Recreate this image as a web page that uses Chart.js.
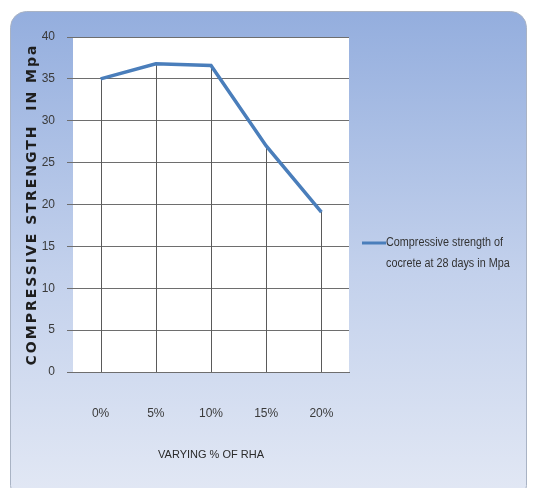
<!DOCTYPE html>
<html>
<head>
<meta charset="utf-8">
<script src="https://cdn.jsdelivr.net/npm/chart.js@4"></script>
<style>
  html, body { margin: 0; padding: 0; background: #fff; }
  #wrap { width: 533px; height: 488px; }
</style>
</head>
<body>
<div id="wrap"><canvas id="myChart" width="533" height="488"></canvas></div>
<script>
// data
const categories = ['0%', '5%', '10%', '15%', '20%'];
const strength = [35, 36.8, 36.6, 27.0, 19.1];
const seriesLabel = ['Compressive strength of', 'cocrete at 28 days in Mpa'];
const yTitle = 'COMPRESSIVE STRENGTH  IN Mpa';
const yTicks = [0, 5, 10, 15, 20, 25, 30, 35, 40];

const narrow = "'Liberation Sans Narrow', 'Arial Narrow', 'Liberation Sans', sans-serif";

// card background + white plot area
const background = {
    id: 'background',
    beforeDraw(chart) {
        const ctx = chart.ctx;
        const a = chart.chartArea;
        ctx.save();
        ctx.fillStyle = '#ffffff';
        ctx.fillRect(0, 0, chart.width, chart.height);
        const g = ctx.createLinearGradient(0, 12, 0, 488);
        g.addColorStop(0, '#94aede');
        g.addColorStop(0.55, '#c3d1ec');
        g.addColorStop(1, '#e1e7f4');
        ctx.beginPath();
        ctx.roundRect(10.5, 11.5, 516, 490, 16);
        ctx.fillStyle = g;
        ctx.fill();
        ctx.strokeStyle = '#a9b3c4';
        ctx.lineWidth = 1;
        ctx.stroke();
        ctx.fillStyle = '#ffffff';
        ctx.fillRect(a.left, a.top, a.right - a.left, a.bottom - a.top);
        ctx.restore();
    }
};

// vertical drop lines from each point to the x axis
const dropLines = {
    id: 'dropLines',
    beforeDatasetsDraw(chart) {
        const ctx = chart.ctx;
        const x = chart.scales.x, y = chart.scales.y;
        ctx.save();
        ctx.strokeStyle = '#5a5a5a';
        ctx.lineWidth = 1;
        strength.forEach((v, i) => {
            const px = Math.round(x.getPixelForValue(i)) + 0.5;
            ctx.beginPath();
            ctx.moveTo(px, y.getPixelForValue(v));
            ctx.lineTo(px, y.getPixelForValue(0));
            ctx.stroke();
        });
        ctx.restore();
    }
};

// spaced-out bold y title + two-line legend on the right
const extras = {
    id: 'extras',
    afterDraw(chart) {
        const ctx = chart.ctx;
        const a = chart.chartArea;
        ctx.save();
        ctx.translate(32, (a.top + a.bottom) / 2);
        ctx.rotate(-Math.PI / 2);
        ctx.font = "bold 14px 'DejaVu Sans', sans-serif";
        ctx.letterSpacing = '2px';
        ctx.fillStyle = '#1e1e1e';
        ctx.textAlign = 'center';
        ctx.textBaseline = 'middle';
        ctx.fillText(yTitle, 0, 0);
        ctx.restore();

        ctx.save();
        ctx.strokeStyle = '#4a7ebb';
        ctx.lineWidth = 3;
        ctx.beginPath();
        ctx.moveTo(362, 243);
        ctx.lineTo(386, 243);
        ctx.stroke();
        ctx.fillStyle = '#333333';
        ctx.font = '12px ' + narrow;
        ctx.textBaseline = 'middle';
        ctx.translate(386, 0);
        ctx.scale(0.9, 1);
        ctx.fillText(seriesLabel[0], 0, 243);
        ctx.fillText(seriesLabel[1], 0, 264);
        ctx.restore();
    }
};

const ctx = document.getElementById('myChart').getContext('2d');

const myChart = new Chart(ctx, {
    type: 'line',
    data: {
        labels: categories,
        datasets: [{
            label: seriesLabel.join(' '),
            data: strength,
            borderColor: '#4a7ebb',
            borderWidth: 3.5,
            pointRadius: 0,
            fill: false,
            tension: 0
        }]
    },
    options: {
        responsive: false,
        animation: false,
        layout: { padding: { left: 20, top: 37, right: 184, bottom: 22 } },
        plugins: {
            legend: { display: false },
            tooltip: { enabled: false }
        },
        scales: {
            x: {
                type: 'category',
                offset: true,
                grid: { display: false, drawTicks: false },
                border: { display: true, color: '#6e6e6e', width: 1 },
                ticks: { color: '#3a3a3a', font: { family: narrow, size: 12 }, padding: 34 },
                title: {
                    display: true,
                    text: 'VARYING % OF RHA',
                    color: '#2a2a2a',
                    font: { family: narrow, size: 11 },
                    padding: { top: 25 }
                },
                afterFit(scale) { scale.height = 94; }
            },
            y: {
                min: 0,
                max: 40,
                afterBuildTicks(scale) { scale.ticks = yTicks.map(v => ({ value: v })); },
                grid: { color: '#6e6e6e', lineWidth: 1, tickLength: 6 },
                border: { display: false },
                ticks: { color: '#3a3a3a', font: { family: narrow, size: 12 }, padding: 12 },
                title: { display: false },
                afterFit(scale) { scale.width = 53; }
            }
        }
    },
    plugins: [background, dropLines, extras]
});
</script>
</body>
</html>
